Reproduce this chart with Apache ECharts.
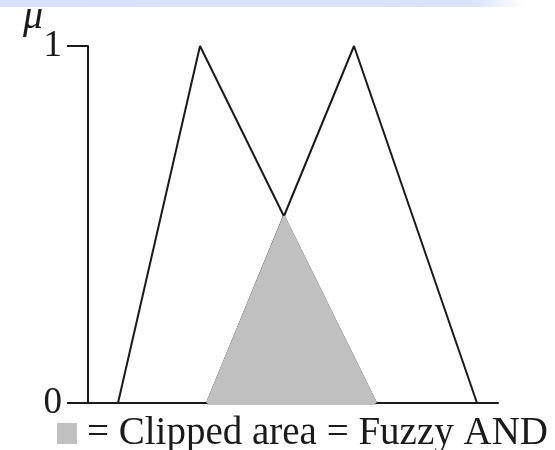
<!DOCTYPE html>
<html>
<head>
<meta charset="utf-8">
<script src="https://cdn.jsdelivr.net/npm/echarts@6/dist/echarts.min.js"></script>
<style>
html,body{margin:0;padding:0;background:#fff;}
#chart{width:555px;height:450px;}
</style>
</head>
<body>
<div id="chart"></div>
<script>
// ---- data ----
const xRange = [0, 41];
const yRange = [0, 1];
const triangleA = [[3.0, 0], [11.2, 1], [28.8, 0]];
const triangleB = [[11.9, 0], [26.6, 1], [38.9, 0]];
const clippedArea = [[11.9, 0], [19.6, 0.523], [28.8, 0]];
const yTickLabels = ['0', '1'];
const axisName = 'μ';
const legendLabel = '= Clipped area = Fuzzy AND';

const serif = '"Liberation Serif", "DejaVu Serif", serif';
const ink = '#1a1a1a';
const grey = '#c0c0c0';

const chart = echarts.init(document.getElementById('chart'), null, {renderer: 'canvas'});
chart.setOption({
  animation: false,
  backgroundColor: '#ffffff',
  grid: {left: 88, right: 57, top: 46, bottom: 47, containLabel: false, outerBoundsMode: 'none'},
  graphic: [{
    type: 'rect',
    left: 0, top: 0,
    shape: {width: 525, height: 7},
    style: {
      fill: new echarts.graphic.LinearGradient(0, 0, 1, 0, [
        {offset: 0, color: '#d6e2fb'},
        {offset: 0.9, color: '#d9e4fc'},
        {offset: 1, color: '#ffffff'}
      ])
    },
    silent: true
  }],
  legend: {
    data: [legendLabel],
    left: 57,
    top: 414,
    padding: 0,
    icon: 'rect',
    itemWidth: 20,
    itemHeight: 21,
    textStyle: {fontFamily: serif, fontSize: 39, color: ink, padding: [0, 0, 6, 5]},
    selectedMode: false
  },
  xAxis: {
    type: 'value',
    min: xRange[0], max: xRange[1],
    axisLine: {show: true, onZero: false, lineStyle: {color: ink, width: 2}},
    axisTick: {show: false},
    axisLabel: {show: false},
    splitLine: {show: false}
  },
  yAxis: {
    type: 'value',
    min: yRange[0], max: yRange[1], interval: 1,
    name: axisName,
    nameLocation: 'end',
    nameGap: 9,
    nameMoveOverlap: false,
    nameTextStyle: {
      fontFamily: serif, fontStyle: 'italic', fontSize: 40, color: ink,
      align: 'right', verticalAlign: 'bottom', padding: [0, 45, 0, 0]
    },
    axisLine: {show: true, onZero: false, lineStyle: {color: ink, width: 2}},
    axisTick: {show: true, length: 21, lineStyle: {color: ink, width: 2}},
    axisLabel: {
      margin: 26, fontFamily: serif, fontSize: 37, color: ink,
      formatter: function (v) { return yTickLabels[v]; }
    },
    splitLine: {show: false}
  },
  series: [
    {
      name: 'A',
      type: 'line',
      data: triangleA,
      symbol: 'none',
      lineStyle: {width: 2, color: ink},
      z: 3
    },
    {
      name: 'B',
      type: 'line',
      data: triangleB,
      symbol: 'none',
      lineStyle: {width: 2, color: ink},
      z: 3
    },
    {
      name: legendLabel,
      type: 'line',
      data: clippedArea,
      symbol: 'none',
      clip: false,
      lineStyle: {width: 2, color: grey},
      itemStyle: {color: grey},
      areaStyle: {color: grey, opacity: 1, shadowColor: grey, shadowBlur: 0, shadowOffsetY: 2},
      z: 6
    }
  ]
});
</script>
</body>
</html>
